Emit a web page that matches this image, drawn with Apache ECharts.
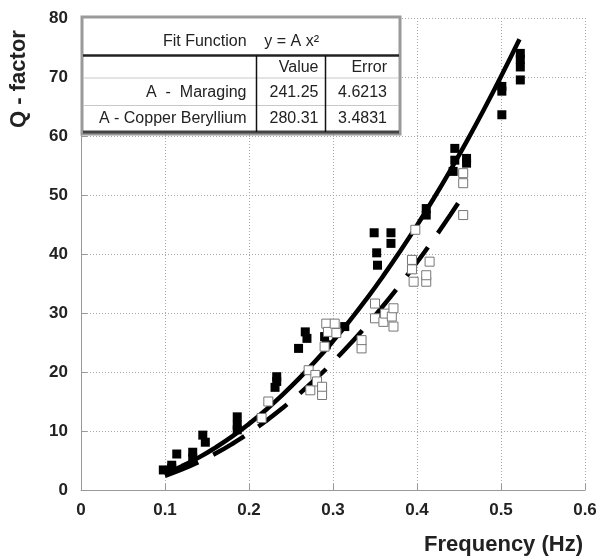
<!DOCTYPE html>
<html>
<head>
<meta charset="utf-8">
<script src="https://cdn.jsdelivr.net/npm/echarts@6/dist/echarts.min.js"></script>
<style>
html,body{margin:0;padding:0;background:#fff;}
#c{width:603px;height:559px;}
</style>
</head>
<body>
<div id="c"></div>
<script>
// ---- tick labels ----
const xTickLabels = ['0', '0.1', '0.2', '0.3', '0.4', '0.5', '0.6'];
const yTickLabels = ['0', '10', '20', '30', '40', '50', '60', '70', '80'];

// ---- measured points (frequency Hz, Q-factor) ----
// filled squares : Copper Beryllium
const copperBerylliumPoints = [
  [0.098, 3.4], [0.108, 3.7], [0.108, 4.2], [0.114, 6.1], [0.133, 5.4], [0.133, 6.4],
  [0.145, 9.3], [0.148, 8.1], [0.186, 10.2], [0.186, 11.0], [0.186, 12.4],
  [0.231, 17.4], [0.233, 18.4], [0.233, 19.2], [0.259, 24.0], [0.267, 26.8], [0.269, 25.7],
  [0.290, 26.0], [0.292, 24.6], [0.314, 27.7],
  [0.349, 43.6], [0.352, 40.2], [0.353, 38.1], [0.369, 41.8], [0.369, 43.6],
  [0.411, 46.6], [0.411, 47.7], [0.443, 54.0], [0.445, 55.9], [0.445, 57.9],
  [0.459, 55.4], [0.459, 56.2], [0.501, 63.6], [0.501, 67.6], [0.501, 68.4],
  [0.523, 69.5], [0.523, 71.7], [0.523, 73.0], [0.523, 74.0]
];
// open squares : Maraging
const maragingPoints = [
  [0.215, 12.2], [0.223, 15.0], [0.271, 20.3], [0.273, 16.9], [0.279, 19.5], [0.281, 18.4],
  [0.287, 16.1], [0.287, 17.5], [0.290, 24.3], [0.292, 28.2], [0.294, 26.8], [0.302, 28.2],
  [0.304, 26.6], [0.334, 24.0], [0.334, 25.4], [0.350, 29.1], [0.350, 31.6], [0.360, 28.5],
  [0.362, 29.9], [0.370, 29.4], [0.372, 27.7], [0.372, 30.8], [0.394, 37.4], [0.394, 39.0],
  [0.396, 35.3], [0.398, 44.1], [0.411, 35.3], [0.411, 36.4], [0.415, 38.7],
  [0.455, 46.6], [0.455, 52.0], [0.455, 53.7]
];

// ---- fitted curves ----
const copperFitCurve = [
  [0.10, 2.80], [0.12, 4.04], [0.14, 5.49], [0.16, 7.18], [0.18, 9.08], [0.20, 11.21],
  [0.22, 13.57], [0.24, 16.15], [0.26, 18.95], [0.28, 21.98], [0.30, 25.23], [0.32, 28.70],
  [0.34, 32.40], [0.36, 36.33], [0.38, 40.48], [0.40, 44.85], [0.42, 49.45], [0.44, 54.27],
  [0.46, 59.31], [0.48, 64.58], [0.50, 70.08], [0.522, 76.4]
];
const maragingFitCurve = [
  [0.10, 2.41], [0.12, 3.47], [0.14, 4.73], [0.16, 6.18], [0.18, 7.82], [0.20, 9.65],
  [0.22, 11.68], [0.24, 13.90], [0.26, 16.31], [0.28, 18.91], [0.30, 21.71], [0.32, 24.70],
  [0.34, 27.89], [0.36, 31.27], [0.38, 34.84], [0.40, 38.60], [0.42, 42.56], [0.44, 46.71],
  [0.455, 49.95]
];

// ---- fit table ----
const fitTitle = 'Fit Function    y = A x\u00B2';
const tableHeader = ['', 'Value', 'Error'];
const tableRows = [
  ['A  -  Maraging', '241.25', '4.6213'],
  ['A - Copper Beryllium', '280.31', '3.4831']
];

const FONT = '"Liberation Sans", Arial, sans-serif';
const chart = echarts.init(document.getElementById('c'), null, {renderer: 'canvas'});

// table layout
const tb = {l: 83, r: 399, t: 18, titleB: 55.5, headB: 78, row1B: 105.5, b: 132, c1: 256.5, c2: 325.5};
const colRight = [246.5, 318.5, 387];
const rowMid = [67.5, 92.5, 118.5];

const tableEls = [];
tableEls.push({type: 'rect', shape: {x: tb.l - 1, y: tb.t - 1, width: tb.r - tb.l + 2, height: tb.b - tb.t + 3},
  style: {fill: '#fff', stroke: '#9a9a9a', lineWidth: 3}, z: 100});
tableEls.push({type: 'line', shape: {x1: tb.l, y1: tb.b, x2: tb.r, y2: tb.b}, style: {stroke: '#444', lineWidth: 3}, z: 101});
tableEls.push({type: 'line', shape: {x1: tb.l, y1: tb.titleB, x2: tb.r, y2: tb.titleB}, style: {stroke: '#222', lineWidth: 2.5}, z: 101});
tableEls.push({type: 'line', shape: {x1: tb.l, y1: tb.headB, x2: tb.r, y2: tb.headB}, style: {stroke: '#c8c8c8', lineWidth: 1}, z: 101});
tableEls.push({type: 'line', shape: {x1: tb.l, y1: tb.row1B, x2: tb.r, y2: tb.row1B}, style: {stroke: '#c8c8c8', lineWidth: 1}, z: 101});
[tb.c1, tb.c2].forEach(function (cx) {
  tableEls.push({type: 'line', shape: {x1: cx, y1: tb.titleB, x2: cx, y2: tb.b}, style: {stroke: '#111', lineWidth: 1.5}, z: 101});
});
function txt(s, x, y, align) {
  return {type: 'text', x: x, y: y, z: 102,
    style: {text: s, font: '16px ' + FONT, fill: '#222', align: align, textAlign: align,
      verticalAlign: 'middle', textVerticalAlign: 'middle'}};
}
tableEls.push(txt(fitTitle, (tb.l + tb.r) / 2, 42, 'center'));
tableHeader.forEach(function (h, i) { if (h) tableEls.push(txt(h, colRight[i], rowMid[0], 'right')); });
tableRows.forEach(function (row, r) {
  row.forEach(function (cell, i) { tableEls.push(txt(cell, colRight[i], rowMid[r + 1], 'right')); });
});

// y-axis name as rotated text
tableEls.push({type: 'text', x: 19, y: 79, rotation: Math.PI / 2, z: 102,
  style: {text: 'Q - factor', font: 'bold 22px ' + FONT, fill: '#222', align: 'center', textAlign: 'center',
    verticalAlign: 'middle', textVerticalAlign: 'middle'}});

const axisCommon = {
  axisLine: {show: true, lineStyle: {color: '#999', width: 1}},
  axisTick: {show: true, inside: true, length: 6, lineStyle: {color: '#999'}},
  splitLine: {show: true, lineStyle: {color: '#a8a8a8', width: 1, type: [1, 2]}}
};

chart.setOption({
  backgroundColor: '#fff',
  animation: false,
  grid: {left: 81, right: 18, top: 18, bottom: 69, containLabel: false, outerBoundsMode: 'none'},
  xAxis: Object.assign({
    type: 'value', min: 0, max: 0.6, interval: 0.1,
    name: 'Frequency (Hz)', nameLocation: 'end', nameGap: 0,
    nameTextStyle: {fontFamily: FONT, fontWeight: 'bold', fontSize: 22, color: '#222',
      align: 'right', verticalAlign: 'top', padding: [44, 2, 0, 0]},
    axisLabel: {fontFamily: FONT, fontWeight: 'bold', fontSize: 17, color: '#222', margin: 12,
      formatter: function (v, i) { return xTickLabels[i]; }}
  }, axisCommon),
  yAxis: Object.assign({
    type: 'value', min: 0, max: 80, interval: 10,
    axisLabel: {fontFamily: FONT, fontWeight: 'bold', fontSize: 17, color: '#222', margin: 13,
      formatter: function (v, i) { return yTickLabels[i]; }}
  }, axisCommon),
  graphic: tableEls,
  series: [
    {type: 'line', name: 'Copper Beryllium fit', data: copperFitCurve, smooth: true, showSymbol: false,
      lineStyle: {color: '#000', width: 4.5}, z: 2},
    {type: 'line', name: 'Maraging fit', data: maragingFitCurve, smooth: true, showSymbol: false,
      lineStyle: {color: '#000', width: 4.5, type: [36, 17]}, z: 2},
    {type: 'scatter', name: 'Copper Beryllium', data: copperBerylliumPoints, symbol: 'rect', symbolSize: 9,
      itemStyle: {color: '#000', opacity: 1}, z: 3},
    {type: 'scatter', name: 'Maraging', data: maragingPoints, symbol: 'rect', symbolSize: 9,
      itemStyle: {color: '#fff', borderColor: '#777', borderWidth: 1, opacity: 1}, z: 4}
  ]
});
</script>
</body>
</html>
